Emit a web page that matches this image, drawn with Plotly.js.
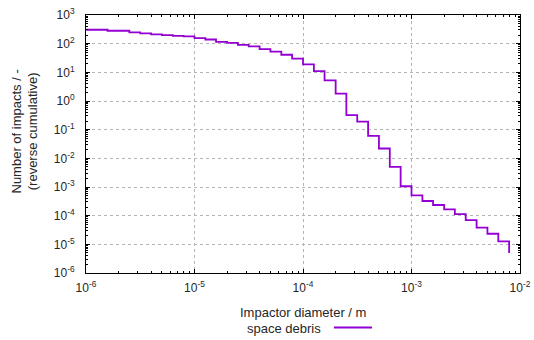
<!DOCTYPE html>
<html>
<head>
<meta charset="utf-8">
<script src="https://cdn.plot.ly/plotly-3.0.1.min.js"></script>
<style>html,body{margin:0;padding:0;background:#fff;}#chart{width:534px;height:340px;}</style>
</head>
<body>
<div id="chart"></div>
<script>
// Impactor diameter bin edges (m)
const diameters = [
  1.00e-6, 1.26e-6, 1.58e-6, 2.00e-6, 2.51e-6, 3.16e-6, 3.98e-6, 5.01e-6, 6.31e-6, 7.94e-6,
  1.00e-5, 1.26e-5, 1.58e-5, 2.00e-5, 2.51e-5, 3.16e-5, 3.98e-5, 5.01e-5, 6.31e-5, 7.94e-5,
  1.00e-4, 1.26e-4, 1.58e-4, 2.00e-4, 2.51e-4, 3.16e-4, 3.98e-4, 5.01e-4, 6.31e-4, 7.94e-4,
  1.00e-3, 1.26e-3, 1.58e-3, 2.00e-3, 2.51e-3, 3.16e-3, 3.98e-3, 5.01e-3, 6.31e-3, 7.94e-3
];
// Reverse cumulative number of impacts, space debris
const impacts = [
  306, 306, 282, 282, 247, 228, 210, 199, 188, 179,
  155, 140, 116, 107, 91, 80, 64, 53, 41, 30,
  19, 11, 5.2, 1.8, 0.32, 0.19, 0.061, 0.022, 0.005, 0.00106,
  5.1e-4, 3.25e-4, 2.36e-4, 1.66e-4, 1.14e-4, 7.0e-5, 3.8e-5, 2.34e-5, 1.26e-5, 5e-6
];
const seriesName = "space debris";
const xTickVals = [1e-6, 1e-5, 1e-4, 1e-3, 1e-2];
const xTickText = ["10<sup>-6</sup>", "10<sup>-5</sup>", "10<sup>-4</sup>", "10<sup>-3</sup>", "10<sup>-2</sup>"];
const yTickVals = [1e-6, 1e-5, 1e-4, 1e-3, 1e-2, 1e-1, 1e0, 1e1, 1e2, 1e3];
const yTickText = ["10<sup>-6</sup>", "10<sup>-5</sup>", "10<sup>-4</sup>", "10<sup>-3</sup>", "10<sup>-2</sup>",
                   "10<sup>-1</sup>", "10<sup>0</sup>", "10<sup>1</sup>", "10<sup>2</sup>", "10<sup>3</sup>"];
const xTitle = "Impactor diameter / m";
const yTitle = "Number of impacts / -<br>(reverse cumulative)";

const lineColor = "#9400d3";
const textColor = "#262626";
const FONT = "Liberation Sans, Arial, sans-serif";

const W = 534, H = 340;
const M = {l: 86, r: 14, t: 15, b: 67};
const pw = W - M.l - M.r, ph = H - M.t - M.b;
const px = x => (x - M.l) / pw;
const py = y => (H - M.b - y) / ph;

const axisCommon = {
  type: "log",
  showline: true, linecolor: "#000", linewidth: 1, mirror: "allticks",
  ticks: "inside", ticklen: 4, tickcolor: "#000", tickwidth: 1,
  tickmode: "array",
  showgrid: true, gridcolor: "#b4b4b4", griddash: "dot", gridwidth: 1,
  zeroline: false,
  tickfont: {family: FONT, size: 12, color: textColor},
  minor: {ticks: "inside", ticklen: 2, tickcolor: "#000", tickwidth: 1, dtick: "D1", showgrid: false}
};

const data = [{
  type: "scatter", mode: "lines",
  x: diameters, y: impacts,
  name: seriesName,
  line: {shape: "hv", color: lineColor, width: 1.8},
  showlegend: false
}];

const layout = {
  width: W, height: H,
  margin: M,
  paper_bgcolor: "#fff", plot_bgcolor: "#fff",
  font: {family: FONT, size: 12, color: textColor},
  xaxis: Object.assign({}, axisCommon, {
    range: [-6, -2], tickvals: xTickVals, ticktext: xTickText, ticklabelstandoff: 4
  }),
  yaxis: Object.assign({}, axisCommon, {
    range: [-6, 3], tickvals: yTickVals, ticktext: yTickText, ticklabelstandoff: 8
  }),
  annotations: [
    {xref: "paper", yref: "paper", x: px(303), y: py(312), xanchor: "center", yanchor: "middle",
     text: xTitle, showarrow: false, font: {family: FONT, size: 13, color: textColor}},
    {xref: "paper", yref: "paper", x: px(24.5), y: py(132), xanchor: "center", yanchor: "middle",
     text: yTitle, textangle: -90, showarrow: false, font: {family: FONT, size: 13, color: textColor}},
    {xref: "paper", yref: "paper", x: px(323), y: py(328), xanchor: "right", yanchor: "middle",
     text: seriesName, showarrow: false, font: {family: FONT, size: 13, color: textColor}}
  ],
  shapes: [
    {type: "line", xref: "paper", yref: "paper", x0: px(334), x1: px(372), y0: py(327.5), y1: py(327.5),
     line: {color: lineColor, width: 1.8}}
  ]
};

Plotly.newPlot("chart", data, layout, {staticPlot: true, displayModeBar: false});
</script>
</body>
</html>
